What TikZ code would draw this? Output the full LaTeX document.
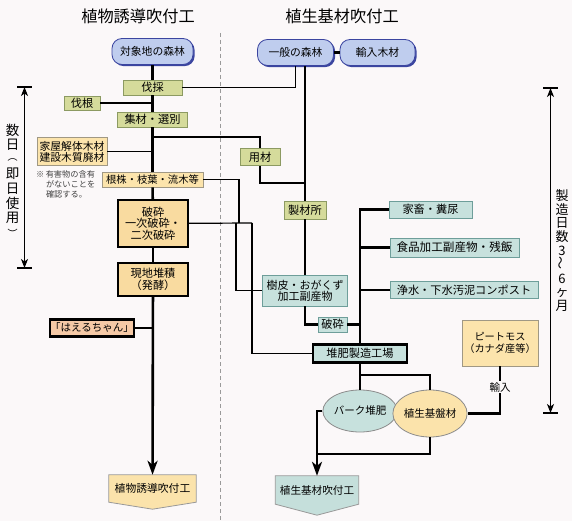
\documentclass[tikz,border=0pt]{standalone}
\usepackage{fontspec}
\usepackage{graphicx}
\setmainfont{Noto Sans CJK JP}
\usetikzlibrary{arrows.meta,shadows,calc,shapes.geometric}
\definecolor{bgc}{HTML}{FBF8F9}
\definecolor{cblue}{HTML}{BFCDEE}
\definecolor{cbluedk}{HTML}{3B45A0}
\definecolor{cgreen}{HTML}{D5DB9B}
\definecolor{cgreenbd}{HTML}{8C9A62}
\definecolor{cyel}{HTML}{FCE4AC}
\definecolor{cyelbd}{HTML}{A09884}
\definecolor{cyel2}{HTML}{F9DBA0}
\definecolor{cpeach}{HTML}{F5C9A6}
\definecolor{cteal}{HTML}{C7E1DD}
\definecolor{ctealbd}{HTML}{6E9E9A}
\definecolor{cfiny}{HTML}{FBE3AB}
\definecolor{cfint}{HTML}{C5DFDB}
\definecolor{cdash}{HTML}{9A9A9A}
\pgfdeclarelayer{back}
\pgfdeclarelayer{bgl}
\pgfsetlayers{back,bgl,main}
\tikzset{
  lbl/.style={font=\fontsize{11.2}{13}\selectfont, inner sep=0pt, align=center, text=black},
  bluebox/.style={lbl, draw=cbluedk, line width=0.8pt, fill=cblue, rounded corners=10pt,
    minimum height=26pt, drop shadow={shadow xshift=1.6pt, shadow yshift=-1.6pt, fill=cbluedk, opacity=1}},
  greenbox/.style={lbl, draw=cgreenbd, line width=0.8pt, fill=cgreen},
  yelbox/.style={lbl, draw=cyelbd, line width=0.8pt, fill=cyel},
  tealbox/.style={lbl, draw=ctealbd, line width=0.8pt, fill=cteal},
  heavybox/.style={lbl, draw=black, line width=2.2pt},
  ovalnode/.style={lbl, ellipse, draw=black!45, line width=0.8pt},
  ln/.style={line width=1.2pt},
  tk/.style={line width=2.6pt},
  bigtip/.style={-{Stealth[length=14pt,width=10pt,inset=4pt]}},
  dimtip/.style={{Stealth[length=9pt,width=7pt,inset=2.5pt]}-{Stealth[length=9pt,width=7pt,inset=2.5pt]}},
  titlefont/.style={font=\fontsize{16.2}{18}\selectfont, inner sep=0pt},
  finalshape/.style={draw=black!40, line width=0.8pt},
  vchar/.style={font=\fontsize{13.5}{14}\selectfont, inner sep=0pt},
  vparen/.style={font=\fontsize{10}{10}\selectfont, inner sep=0pt}
}
\begin{document}
\begin{tikzpicture}[x=1pt,y=-1pt]
\begin{pgfonlayer}{back}
\fill[bgc] (0,0) rectangle (572,521);
\end{pgfonlayer}
\useasboundingbox (0,0) rectangle (572,521);

% titles
\node[titlefont] (t1) at (138,16) {植物誘導吹付工};
\node[titlefont] (t2) at (342,16) {植生基材吹付工};

% dashed divider
\coordinate (dv1) at (220,33);
\coordinate (dv2) at (220,521);
\draw[cdash, line width=0.9pt, dash pattern=on 4pt off 3pt] (dv1) -- (dv2);

% left column nodes
\node[bluebox, minimum width=81pt, font=\fontsize{10.8}{13}\selectfont] (taisho) at (152.5,51.5) {対象地の森林};
\node[greenbox, minimum width=59pt, minimum height=15pt] (bassai) at (152.5,87.5) {伐採};
\node[greenbox, minimum width=36pt, minimum height=14pt] (batsukon) at (82,103) {伐根};
\node[greenbox, minimum width=70pt, minimum height=15pt] (shuzai) at (152.5,119.5) {集材・選別};
\node[yelbox, minimum width=70pt, minimum height=28pt, font=\fontsize{10.8}{12.5}\selectfont] (kaoku) at (72,151.5) {家屋解体木材\\[-1.5pt]建設木質廃材};
\node[font=\fontsize{8.2}{10}\selectfont, inner sep=0pt, align=left, anchor=north west, text=black!75] (note) at (36,170)
  {※\,有害物の含有\\\hspace{1.2em}がないことを\\\hspace{1.2em}確認する。};
\node[greenbox, minimum width=40pt, minimum height=17pt] (yozai) at (260,157) {用材};
\node[yelbox, minimum width=101pt, minimum height=15pt, font=\fontsize{10.3}{12}\selectfont] (konkabu) at (152.5,179.5) {根株・枝葉・流木等};
\node[heavybox, fill=cyel2, minimum width=70pt, minimum height=47pt] (hasai) at (153,223.5) {破砕\\[-1.5pt]一次破砕・\\[-1.5pt]二次破砕};
\node[heavybox, fill=cyel2, minimum width=70pt, minimum height=33pt] (genchi) at (153,279.5) {現地堆積\\[-1.5pt]（発酵）};
\node[heavybox, fill=cpeach, minimum width=74pt, minimum height=17pt, font=\fontsize{10.5}{12}\selectfont] (haeru) at (92,328) {「はえるちゃん」};
\node[lbl, minimum width=87pt, minimum height=27pt, font=\fontsize{10.8}{12}\selectfont] (final1) at (152.5,488.5) {植物誘導吹付工};

% right column nodes
\node[bluebox, minimum width=76pt, font=\fontsize{10.8}{13}\selectfont] (ippan) at (295.5,52.5) {一般の森林};
\node[bluebox, minimum width=75pt, font=\fontsize{10.8}{13}\selectfont] (yunyu) at (377.5,52.5) {輸入木材};
\node[greenbox, minimum width=42pt, minimum height=18pt] (seizai) at (305,210) {製材所};
\node[tealbox, minimum width=85pt, minimum height=31pt, font=\fontsize{11}{12.5}\selectfont] (juhi) at (305,290.5) {樹皮・おがくず\\[-1.5pt]加工副産物};
\node[tealbox, minimum width=29pt, minimum height=15pt] (hasai2) at (332.5,324.5) {破砕};
\node[tealbox, minimum width=83pt, minimum height=17pt] (kachiku) at (430.5,209.5) {家畜・糞尿};
\node[tealbox, minimum width=129pt, minimum height=19pt, font=\fontsize{11.6}{13}\selectfont] (shokuhin) at (454.5,247.5) {食品加工副産物・残飯};
\node[tealbox, minimum width=148pt, minimum height=17pt] (jousui) at (464,290) {浄水・下水汚泥コンポスト};
\node[heavybox, fill=cteal, minimum width=94pt, minimum height=18pt] (taihi) at (360,353.5) {堆肥製造工場};
\node[yelbox, minimum width=76pt, minimum height=46pt, font=\fontsize{10.2}{12.5}\selectfont] (peat) at (500,343) {ピートモス\\[-1pt]（カナダ産等）};
\node[ovalnode, fill=cteal, minimum width=60pt, minimum height=42pt, font=\fontsize{10.5}{12}\selectfont] (bark) at (360,411) {バーク堆肥};
\node[ovalnode, fill=cfiny, minimum width=60pt, minimum height=47pt, font=\fontsize{10.5}{12}\selectfont] (kiban) at (430,413.5) {植生基盤材};
\node[lbl, minimum width=83pt, minimum height=28pt, font=\fontsize{10.6}{12}\selectfont] (final2) at (317,490) {植生基材吹付工};

% final pentagons
\begin{pgfonlayer}{bgl}
\filldraw[finalshape, fill=cfiny] (final1.north west) -- (final1.north east) -- (final1.south east)
  -- ($(final1.south)+(0,7)$) -- (final1.south west) -- cycle;
\filldraw[finalshape, fill=cfint] (final2.north west) -- (final2.north east) -- (final2.south east)
  -- ($(final2.south)+(0,11)$) -- (final2.south west) -- cycle;
\end{pgfonlayer}

% left column connectors
\draw[tk] (taisho) -- (bassai);
\draw[tk] (bassai) -- (shuzai);
\draw[tk] (shuzai) -- (konkabu);
\draw[tk] (konkabu) -- (hasai);
\draw[tk] (hasai) -- (genchi);
\draw[tk, bigtip] (genchi) -- (final1);
\draw[tk] (batsukon) -- (batsukon -| bassai);
\draw[tk] (haeru) -- (haeru -| genchi);
\draw[ln] (kaoku) -- (kaoku -| shuzai);
\draw[ln] (bassai) -| (ippan);
\coordinate (j1) at (152.5,137);
\draw[ln] (j1) -| (yozai);
\coordinate (j2) at (305,183);
\draw[tk] (yozai) |- (j2);

% cross connectors
\coordinate (c239) at (239,223);
\coordinate (c236) at (236,223);
\coordinate (c252) at (252,223);
\draw[ln] (konkabu) -| (c239);
\draw[ln] (hasai) -- (c252);
\draw[ln] (c252) |- (taihi);
\draw[ln] (c236) |- (juhi);

% right column connectors
\draw[tk] (ippan) -- (yunyu);
\draw[tk] (ippan.south -| seizai) -- (seizai);
\draw[tk] (seizai) -- (juhi);
\draw[tk] (juhi) |- (hasai2);
\draw[tk] (hasai2) -- (hasai2 -| taihi);
\draw[tk] (kachiku) -| (taihi);
\draw[tk] (shokuhin) -- (shokuhin -| taihi);
\draw[tk] (jousui) -- (jousui -| taihi);
\draw[line width=2pt] (taihi) -- (bark);
\coordinate (c375) at (360,375);
\draw[ln] (c375) -| (kiban);
\draw[line width=2.2pt] (peat) |- (kiban) node[pos=0.22, fill=bgc, inner sep=1.5pt, font=\fontsize{10.5}{12}\selectfont] (yunyulbl) {輸入};
\draw[tk, bigtip] (bark) -| (final2);
\coordinate (c454) at (318,454);
\draw[tk] (kiban) |- (c454);

% dimension arrows
\coordinate (lb1) at (17,87);   \coordinate (lb2) at (32,87);
\coordinate (lb3) at (17,268);  \coordinate (lb4) at (32,268);
\coordinate (lm1) at (24.5,87); \coordinate (lm2) at (24.5,268);
\draw[ln] (lb1) -- (lb2);
\draw[ln] (lb3) -- (lb4);
\draw[ln, dimtip] (lm1) -- (lm2);
\coordinate (rb1) at (543,88);   \coordinate (rb2) at (558,88);
\coordinate (rb3) at (543,413);  \coordinate (rb4) at (558,413);
\coordinate (rm1) at (550.5,88); \coordinate (rm2) at (550.5,413);
\draw[ln] (rb1) -- (rb2);
\draw[ln] (rb3) -- (rb4);
\draw[ln, dimtip] (rm1) -- (rm2);

% left vertical label
\node[vchar] (dL1) at (12.5,130) {数};
\node[vchar] (dL2) at (12.5,144.5) {日};
\node[vparen] (dL3) at (12.5,160) {︵};
\node[vchar] (dL4) at (12.5,174) {即};
\node[vchar] (dL5) at (12.5,189) {日};
\node[vchar] (dL6) at (12.5,203.5) {使};
\node[vchar] (dL7) at (12.5,218) {用};
\node[vparen] (dL8) at (12.5,233.5) {︶};

% right vertical label
\node[font=\fontsize{13}{13.8}\selectfont, inner sep=0pt, align=center] (daysR) at (562,250.5)
  {製\\造\\日\\数\\3\\\rotatebox{90}{〜}\\6\\ヶ\\月};
\end{tikzpicture}
\end{document}
